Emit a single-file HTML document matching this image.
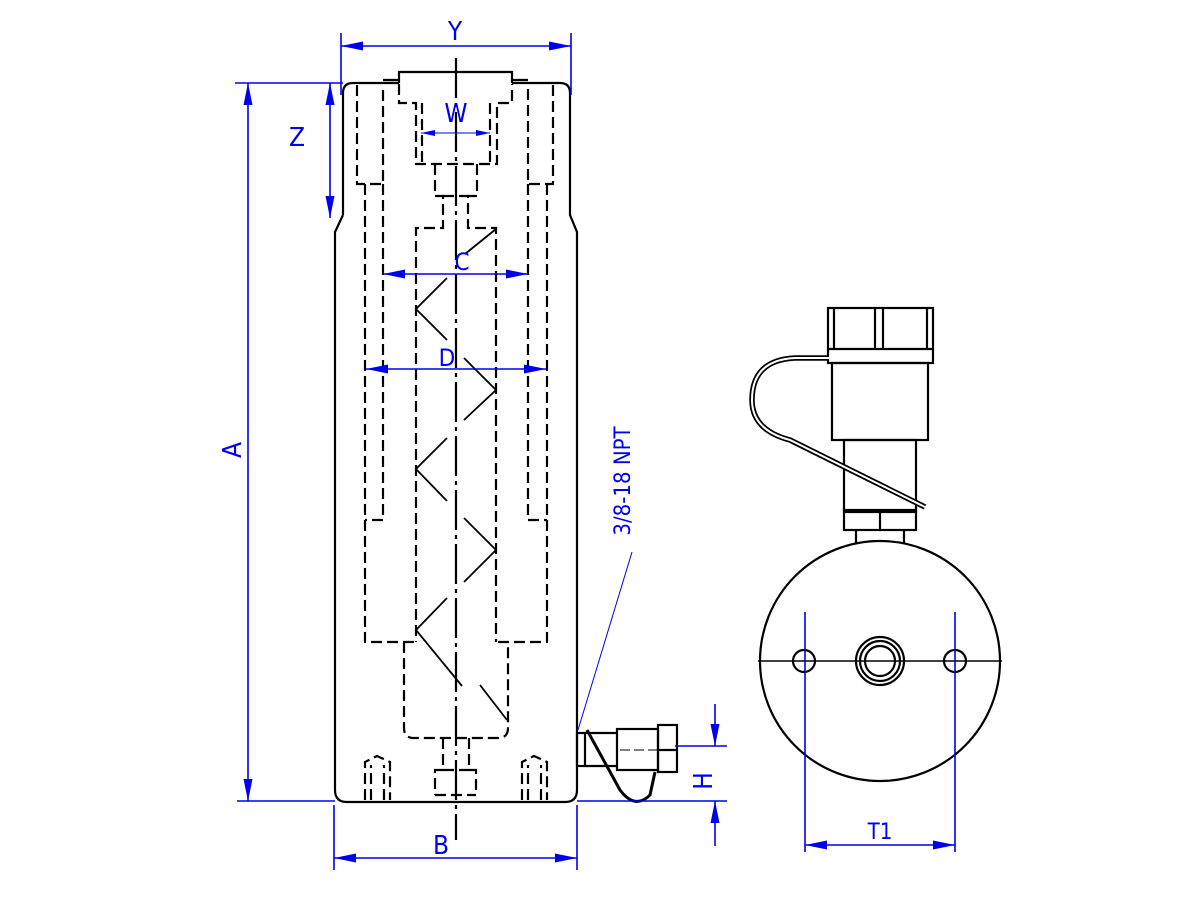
<!DOCTYPE html>
<html><head><meta charset="utf-8"><style>
html,body{margin:0;padding:0;background:#fff;}
svg{display:block;}
text{font-family:"DejaVu Sans Condensed","Liberation Sans Narrow","Liberation Sans",sans-serif;fill:#0000ee;}
</style></head><body>
<svg width="1200" height="900" viewBox="0 0 1200 900" xmlns="http://www.w3.org/2000/svg">
<defs>
<marker id="ar" viewBox="0 0 22 9" refX="22" refY="4.5" markerWidth="22" markerHeight="9" orient="auto-start-reverse" markerUnits="userSpaceOnUse">
<path d="M0,0 L22,4.5 L0,9 z" fill="#0000ee"/></marker>
<marker id="ars" viewBox="0 0 14 6" refX="14" refY="3" markerWidth="14" markerHeight="6" orient="auto-start-reverse" markerUnits="userSpaceOnUse">
<path d="M0,0 L14,3 L0,6 z" fill="#0000ee"/></marker>
</defs>
<rect width="1200" height="900" fill="#fff"/>
<g fill="none" stroke="#000" stroke-width="2.2">
<path d="M343,215 L343,93 Q343,83 353,83 L399,83 M512,83 L560,83 Q570,83 570,93 L570,215 L577,232 L577,790 Q577,802 565,802 L347,802 Q335,802 335,790 L335,232 L343,215"/>
<path d="M399,83 L399,72 L512,72 L512,83"/>
<path d="M383,80 L399,80 M512,80 L528,80"/>
</g>
<g fill="none" stroke="#000" stroke-width="2.2" stroke-dasharray="11,5">
<path d="M357,85 L357,184 L383,184 L383,85"/>
<path d="M553,85 L553,184 L528,184 L528,85"/>
<path d="M365,184 L365,642 L416,642"/>
<path d="M547,184 L547,642 L496,642"/>
<path d="M383,184 L383,520 L365,520"/>
<path d="M528,184 L528,520 L547,520"/>
<path d="M399,84 L399,103 L416,103 L416,164 L497,164 L497,103 L512,103 L512,84"/>
<path d="M422,103 L422,164 M490,103 L490,164"/>
<path d="M435,164 L435,196 L443,196 L443,228 L416,228 L416,642"/>
<path d="M477,164 L477,196 L468,196 L468,228 L496,228 L496,642"/>
<path d="M443,196 L468,196"/>
<path d="M404,642 L404,728 Q404,738 414,738 L498,738 Q508,738 508,728 L508,642"/>
<path d="M443,738 L443,770 L435,770 L435,795 M469,738 L469,770 L476,770 L476,795 M443,770 L469,770 M435,795 L476,795"/>
<path d="M365,800 L365,762 L377,756 L390,762 L390,800 M371,800 L371,765 M384,800 L384,765"/>
<path d="M522,800 L522,762 L534,756 L547,762 L547,800 M528,800 L528,765 M541,800 L541,765"/>
</g>
<g fill="none" stroke="#000" stroke-width="1.8">
<path d="M465,254 L496,229"/>
<path d="M447,278 L416,309 L447,340"/>
<path d="M464,358 L496,390 L464,420"/>
<path d="M447,438 L416,469 L447,501"/>
<path d="M464,518 L496,550 L464,582"/>
<path d="M447,598 L416,630 L462,686"/>
<path d="M480,685 L507,720"/>
</g>
<path d="M456,58 L456,840" stroke="#000" stroke-width="2.2" stroke-dasharray="40,5,4,5" fill="none"/>
<g fill="none" stroke="#000" stroke-width="2.2">
<rect x="577" y="733" width="8" height="33"/>
<path d="M585,733 L617,733 M585,766 L617,766"/>
<rect x="617" y="729" width="41" height="41"/>
<rect x="658" y="725" width="19" height="47"/>
<path d="M658,750 L677,750"/>
<path d="M587,730 L620,790 Q635,810 650,795 L655,772" stroke-width="3"/>
</g>
<path d="M620,750 L675,750" stroke="#000" stroke-width="1" stroke-dasharray="10,4"/>
<g fill="none" stroke="#000" stroke-width="2.2">
<circle cx="880" cy="661" r="120"/>
<circle cx="804" cy="661" r="11"/>
<circle cx="955" cy="661" r="11"/>
<circle cx="880" cy="661" r="24"/>
<circle cx="880" cy="661" r="15"/>
<circle cx="880" cy="661" r="20"/>
<rect x="828" y="308" width="105" height="55"/>
<path d="M828,349 L933,349 M875,308 L875,349 M883,308 L883,349 M834,308 L834,349 M927,308 L927,349"/>
<rect x="832" y="363" width="96" height="77"/>
<rect x="844" y="440" width="72" height="72"/>
<rect x="844" y="510" width="72" height="20"/>
<path d="M880,510 L880,530"/>
<path d="M856,530 L856,543 M904,530 L904,543"/>
<path d="M829,358 L795,358 Q752,360 752,400 Q752,430 790,440 L925,507" stroke-width="5.5"/>
<path d="M829,358 L795,358 Q752,360 752,400 Q752,430 790,440 L925,507" stroke="#fff" stroke-width="2"/>
</g>
<path d="M758,661 L1002,661" stroke="#000" stroke-width="1.5" fill="none"/>
<g stroke="#0000ee" stroke-width="1.6" fill="none">
<path d="M341,33 L341,95 M571,33 L571,95"/>
<path d="M341,46 L571,46" marker-start="url(#ar)" marker-end="url(#ar)"/>
<path d="M235,83 L343,83 M237,801 L335,801"/>
<path d="M248,83 L248,801" marker-start="url(#ar)" marker-end="url(#ar)"/>
<path d="M330,83 L330,218" marker-start="url(#ar)" marker-end="url(#ar)"/>
<path d="M421,133 L490,133" marker-start="url(#ars)" marker-end="url(#ars)" stroke-width="1"/>
<path d="M383,274 L528,274" marker-start="url(#ar)" marker-end="url(#ar)"/>
<path d="M366,369 L546,369" marker-start="url(#ar)" marker-end="url(#ar)"/>
<path d="M334,805 L334,870 M577,805 L577,870"/>
<path d="M334,858 L577,858" marker-start="url(#ar)" marker-end="url(#ar)"/>
<path d="M675,746 L727,746 M577,801 L727,801"/>
<path d="M715,704 L715,746" marker-end="url(#ar)"/>
<path d="M715,846 L715,801" marker-end="url(#ar)"/>
<path d="M805,612 L805,852 M955,612 L955,852"/>
<path d="M805,845 L955,845" marker-start="url(#ar)" marker-end="url(#ar)"/>
<path d="M578,730 L632,552" stroke-width="1"/>
</g>
<g font-size="26">
<text x="455" y="40" text-anchor="middle">Y</text>
<text x="297" y="146" text-anchor="middle">Z</text>
<text x="456" y="122" text-anchor="middle">W</text>
<text x="462" y="270" text-anchor="middle" font-size="24">C</text>
<text x="447" y="366" text-anchor="middle" font-size="24">D</text>
<text x="441" y="854" text-anchor="middle">B</text>
<text x="880" y="839" text-anchor="middle" font-size="22">T1</text>
<text transform="translate(241,450) rotate(-90)" text-anchor="middle">A</text>
<text transform="translate(712,781) rotate(-90)" text-anchor="middle">H</text>
<text transform="translate(630,481) rotate(-90)" text-anchor="middle" font-size="22">3/8-18 NPT</text>
</g>
</svg>
</body></html>
